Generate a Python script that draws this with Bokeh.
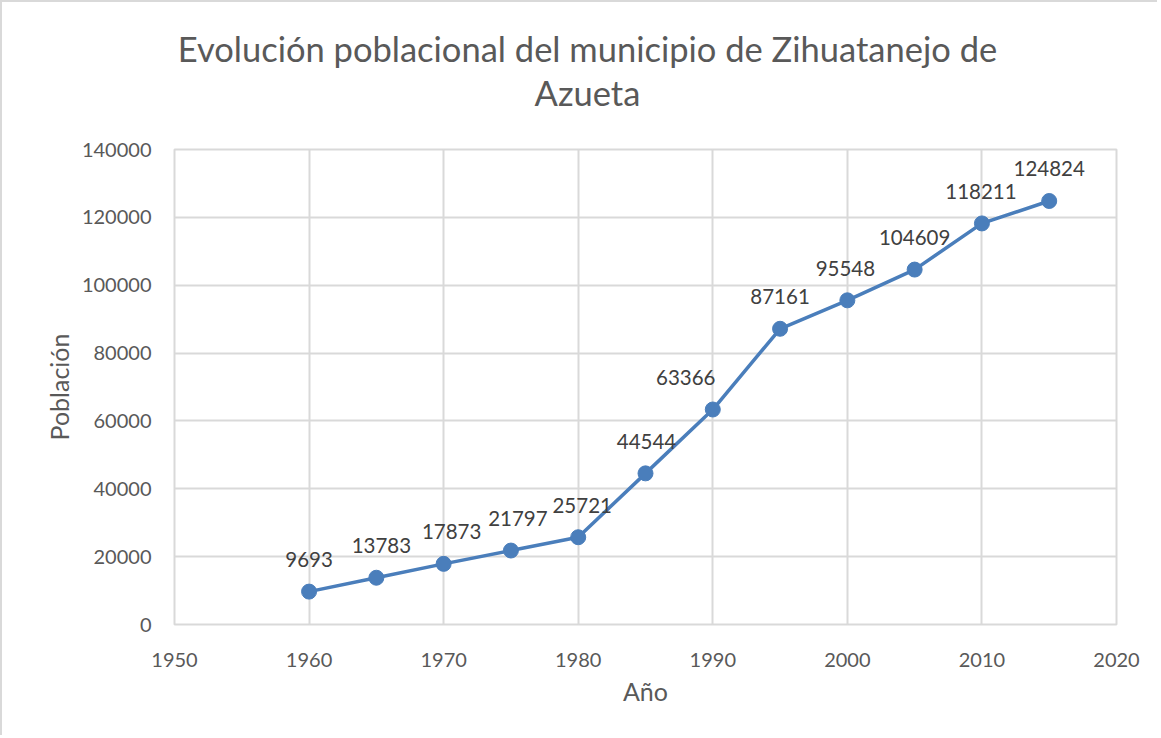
from bokeh.plotting import figure
from bokeh.models import Range1d, FixedTicker, ColumnDataSource, LabelSet, Div, NumeralTickFormatter
from bokeh.layouts import column
from bokeh.core.properties import value
from bokeh.embed import file_html
from bokeh.resources import INLINE

years = [1960, 1965, 1970, 1975, 1980, 1985, 1990, 1995, 2000, 2005, 2010, 2015]
population = [9693, 13783, 17873, 21797, 25721, 44544, 63366, 87161, 95548, 104609, 118211, 124824]
label_dx = [0, 5, 8, 7, 4, 1, -27, 0, -2, 0, -1, 0]
x_ticks = [1950, 1960, 1970, 1980, 1990, 2000, 2010, 2020]
y_ticks = [0, 20000, 40000, 60000, 80000, 100000, 120000, 140000]
title_lines = ["Evolución poblacional del municipio de Zihuatanejo de", "Azueta"]

FONT = "Lato"
GRID = "#d9d9d9"
TXT = "#595959"
BLUE = "#4a7ebb"

title_div = Div(
    text="<div style='display:block;width:1155px;box-sizing:border-box;font-family:Lato;font-size:34.5px;"
         "color:#595959;text-align:center;line-height:44px;padding-top:25px;padding-left:16px;"
         "white-space:nowrap'>" + "<br>".join(title_lines) + "</div>",
    width=1155, height=120, margin=0)

p = figure(width=1155, height=613, output_backend="svg", toolbar_location=None,
           x_range=Range1d(1950, 2020), y_range=Range1d(0, 140000),
           min_border_left=172, min_border_right=41, min_border_top=27, min_border_bottom=111,
           margin=0)
p.outline_line_color = GRID
p.outline_line_width = 2
p.background_fill_color = "white"
p.border_fill_color = "white"

for ax in (p.xaxis, p.yaxis):
    ax.axis_line_color = None
    ax.major_tick_line_color = None
    ax.minor_tick_line_color = None
    ax.major_label_text_font = FONT
    ax.major_label_text_font_size = "20px"
    ax.major_label_text_color = TXT
    ax.axis_label_text_font = FONT
    ax.axis_label_text_font_size = "25px"
    ax.axis_label_text_font_style = "normal"
    ax.axis_label_text_color = TXT

p.xaxis.ticker = FixedTicker(ticks=x_ticks)
p.yaxis.ticker = FixedTicker(ticks=y_ticks)
p.yaxis.formatter = NumeralTickFormatter(format="0")
p.xaxis.axis_label = "Año"
p.yaxis.axis_label = "Población"
p.xaxis.major_label_standoff = 22
p.yaxis.major_label_standoff = 17
p.xaxis.axis_label_standoff = 6
p.yaxis.axis_label_standoff = 5

p.xgrid.grid_line_color = GRID
p.ygrid.grid_line_color = GRID
p.xgrid.grid_line_width = 2
p.ygrid.grid_line_width = 2

src = ColumnDataSource(dict(x=years, y=population, t=[str(v) for v in population], dx=label_dx))
p.line("x", "y", source=src, line_color=BLUE, line_width=3.5)
p.scatter("x", "y", source=src, size=15, fill_color=BLUE, line_color=BLUE)

labels = LabelSet(x="x", y="y", text="t", source=src, x_offset="dx", y_offset=32,
                  text_align="center", text_baseline="middle",
                  text_font=value(FONT), text_font_size="20.5px", text_color="#404040")
p.add_layout(labels)

layout = column(title_div, p, spacing=0, margin=0)
layout.styles = {"border-left": "2px solid #d9d9d9", "border-top": "2px solid #d9d9d9"}

open("out.html", "w").write(file_html(layout, INLINE))
